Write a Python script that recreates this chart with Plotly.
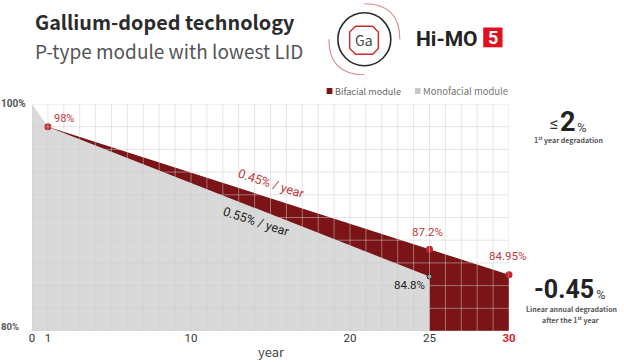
import plotly.graph_objects as go

# Data
mono_years = [0, 1, 25, 25]
mono_pct = [100, 98, 84.8, 80]
bi_years = [1, 25, 30]
bi_pct = [98, 87.2, 84.95]
tick_years = [0, 1, 10, 20, 25, 30]
tick_labels = ["0", "1", "10", "20", "25", "<b><span style='color:#e0202a'>30</span></b>"]
grid_years = list(range(0, 31))
grid_pcts = list(range(80, 101, 2))
marker_years = [1, 25, 30]
marker_pcts = [98, 87.2, 84.95]

W, H = 624, 364
L, R, T, B = 32, 509.5, 104, 331
RED = "#7a1416"
GRAY = "#d9d9d9"


def px(x):
    return (x - L) / (R - L)


def py(y):
    return (B - y) / (B - T)


fig = go.Figure()
fig.add_trace(go.Scatter(x=bi_years, y=bi_pct, mode="lines", fill="tozeroy",
                         fillcolor=RED, line=dict(color=RED, width=0),
                         name="Bifacial module", hoverinfo="skip"))
fig.add_trace(go.Scatter(x=mono_years, y=mono_pct, mode="lines", fill="tozeroy",
                         fillcolor=GRAY, line=dict(color=GRAY, width=0),
                         name="Monofacial module", hoverinfo="skip"))

shapes = []
GRID = "rgba(205,205,205,0.5)"
for g in grid_years:
    shapes.append(dict(type="line", xref="x", yref="y", x0=g, x1=g, y0=80, y1=100,
                       line=dict(color=GRID, width=1), layer="above"))
for g in grid_pcts:
    shapes.append(dict(type="line", xref="x", yref="y", x0=0, x1=30, y0=g, y1=g,
                       line=dict(color=GRID, width=1), layer="above"))

fig.add_trace(go.Scatter(x=marker_years, y=marker_pcts, mode="markers",
                         marker=dict(color="#c0272d", size=7), hoverinfo="skip",
                         showlegend=False, cliponaxis=False))
fig.add_trace(go.Scatter(x=[25], y=[84.8], mode="markers",
                         marker=dict(color="#999999", size=5, line=dict(color="#222222", width=1)),
                         hoverinfo="skip", showlegend=False, cliponaxis=False))


def rect(x0, y0, x1, y1, color):
    shapes.append(dict(type="rect", xref="paper", yref="paper", x0=px(x0), x1=px(x1),
                       y0=py(y0), y1=py(y1), fillcolor=color, line=dict(width=0), layer="above"))


def ppath(points, color, width, fill=None):
    d = "M " + " L ".join(f"{px(a):.5f} {py(b):.5f}" for a, b in points)
    if fill is not None:
        d += " Z"
    else:
        fill = "rgba(0,0,0,0)"
    shapes.append(dict(type="path", xref="paper", yref="paper", path=d,
                       line=dict(color=color, width=width), fillcolor=fill, layer="above"))


# Logo
cx, cy = 364.7, 39.3
shapes.append(dict(type="circle", xref="paper", yref="paper", x0=px(cx - 26.5), x1=px(cx + 26.5),
                   y0=py(cy + 26.5), y1=py(cy - 26.5), line=dict(color="#2b2b2b", width=1.6)))
r = 35.5
arc1 = "M {:.5f} {:.5f} Q {:.5f} {:.5f} {:.5f} {:.5f}".format(
    px(cx), py(cy - r), px(cx + r), py(cy - r), px(cx + r), py(cy))
arc2 = "M {:.5f} {:.5f} Q {:.5f} {:.5f} {:.5f} {:.5f}".format(
    px(cx - r), py(cy), px(cx - r), py(cy + r), px(cx), py(cy + r))
for a in (arc1, arc2):
    shapes.append(dict(type="path", xref="paper", yref="paper", path=a,
                       line=dict(color="#d98a8a", width=1.1)))
ppath([(356, 26.3), (373, 26.3), (378.7, 32), (378.7, 48.5), (373, 54.2), (356, 54.2),
       (350, 48.5), (350, 32)], "#d0272d", 1.4, fill="rgba(255,255,255,0)")
rect(483.7, 27.5, 503, 47.3, "#e0101e")
rect(327, 88, 332.7, 94, RED)
rect(415.3, 88, 421, 94, "#c8c8c8")

SANS = "Noto Sans CJK SC"
NUM = "Roboto"


def text(x, y, s, size, color="#333333", family=SANS, anchor="left", angle=0):
    fig.add_annotation(xref="paper", yref="paper", x=px(x), y=py(y), text=s, showarrow=False,
                       xanchor=anchor, yanchor="middle", textangle=angle,
                       font=dict(size=size, color=color, family=family), borderpad=0, borderwidth=0)


text(35, 21, "<b>Gallium-doped technology</b>", 19.8, "#2b2b2b")
text(35, 51, "P-type module with lowest LID", 19, "#555555")
text(364.5, 40, "Ga", 14, "#444444", anchor="center")
text(416, 39.5, "<b>Hi-MO</b>", 21, "#222222", family="Roboto")
text(493.3, 38, "<b>5</b>", 18, "#ffffff", family="Roboto", anchor="center")
text(335.5, 91, "Bifacial module", 9.1, "#666666")
text(423, 91, "Monofacial module", 9.5, "#777777")
text(1, 103.5, "<b>100%</b>", 10, "#555555", family=NUM)
text(1, 326, "<b>80%</b>", 9.5, "#555555", family=NUM)
text(272, 351, "year", 13, "#444444", anchor="center")

text(64, 118, "98%", 11, "#c0393d", family=NUM, anchor="center")
text(272, 183, "0.45% / year", 12.5, "#c0393d", family=NUM, anchor="center", angle=18)
text(257, 221, "0.55% / year", 12.5, "#222222", family=NUM, anchor="center", angle=18)
text(428, 232, "87.2%", 11.5, "#c0393d", family=NUM, anchor="center")
text(507.5, 256, "84.95%", 11.5, "#c0393d", family=NUM, anchor="center")
text(409.5, 285, "84.8%", 11.5, "#222222", family=NUM, anchor="center")

text(555, 122.5, "≤", 17, "#333333", family=NUM, anchor="center")
text(569, 122, "<b>2</b>", 27, "#222222", family=NUM, anchor="center")
text(583, 127, "%", 13, "#444444", family=NUM, anchor="center")
text(569, 139, "<b>1<sup>st</sup> year degradation</b>", 7, "#555555", anchor="center")

text(565, 289, "<b>-0.45</b>", 25, "#222222", family=NUM, anchor="center")
text(602, 294, "%", 13, "#444444", family=NUM, anchor="center")
text(572, 308.5, "<b>Linear annual degradation</b>", 7, "#555555", anchor="center")
text(572, 319, "<b>after the 1<sup>st</sup> year</b>", 7, "#555555", anchor="center")

fig.update_layout(
    width=W, height=H, margin=dict(l=L, r=W - R, t=T, b=H - B, pad=0),
    paper_bgcolor="white", plot_bgcolor="white", showlegend=False, shapes=shapes,
    xaxis=dict(range=[0, 30], tickmode="array", tickvals=tick_years, ticktext=tick_labels,
               showgrid=False, zeroline=False, showline=False, ticks="", ticklen=0,
               ticklabelstandoff=-2,
               tickangle=0, tickfont=dict(family=NUM, size=11.5, color="#333333")),
    yaxis=dict(range=[80, 100], showgrid=False, zeroline=False, showline=False,
               showticklabels=False, ticks=""),
)
fig.write_html("out.html", config=dict(displayModeBar=False),
               post_script="document.body.style.margin='0';document.body.style.overflow='hidden';")
